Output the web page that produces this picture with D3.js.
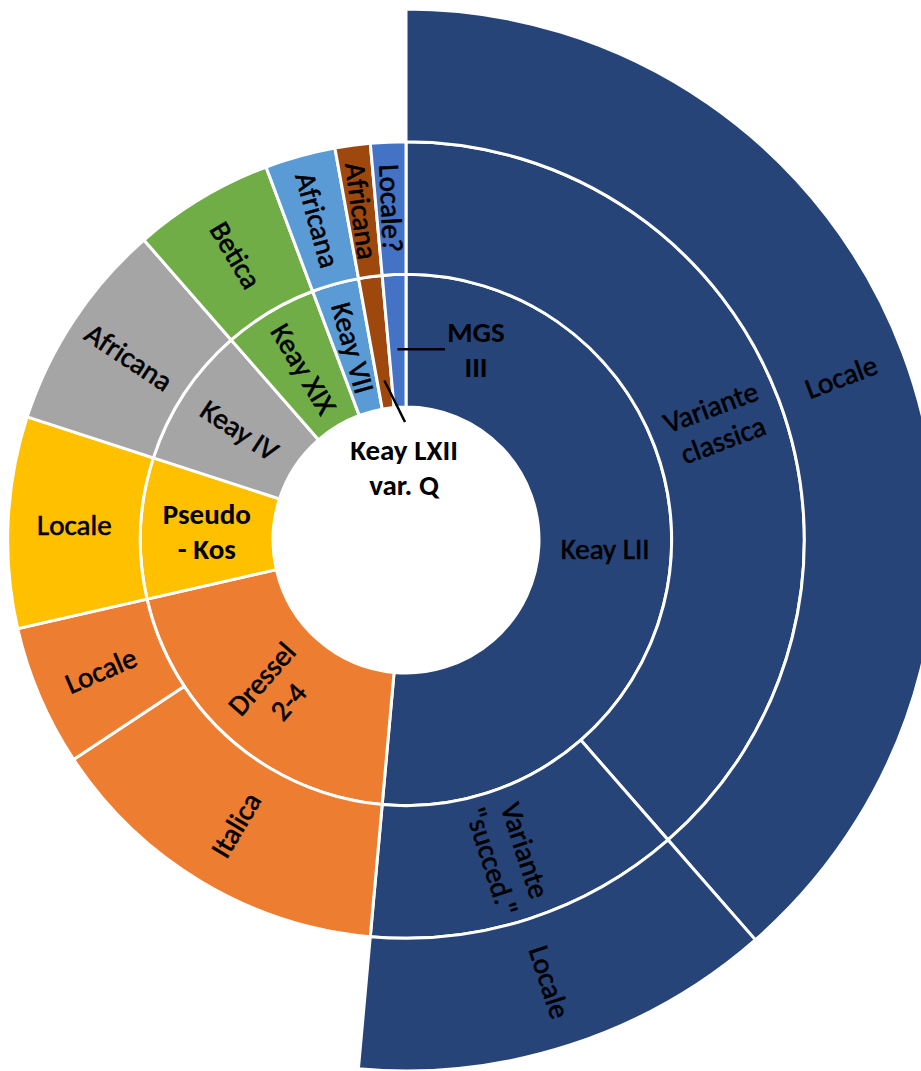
<!DOCTYPE html>
<html>
<head>
<meta charset="utf-8">
<script src="https://cdn.jsdelivr.net/npm/d3@7/dist/d3.min.js"></script>
<style>
  html, body { margin: 0; padding: 0; background: #fff; }
  svg { display: block; }
  text { font-family: Calibri, Carlito, Lato, "Open Sans", sans-serif; fill: #000; }
</style>
</head>
<body>
<svg id="chart" width="921" height="1071"></svg>
<script>
// ---- data (clockwise from 12 o'clock) ----
const level1Names  = ["Keay LII", "Dressel 2-4", "Pseudo - Kos", "Keay IV", "Keay XIX", "Keay VII", "Keay LXII var. Q", "MGS III"];
const level1Colors = ["#264478", "#ED7D31", "#FFC000", "#A5A5A5", "#70AD47", "#5B9BD5", "#9E480E", "#4472C4"];

const level2Parents = ["Keay LII", "Keay LII", "Dressel 2-4", "Dressel 2-4", "Pseudo - Kos", "Keay IV", "Keay XIX", "Keay VII", "Keay LXII var. Q", "MGS III"];
const level2Names   = ["Variante classica", "Variante \"succed.\"", "Italica", "Locale", "Locale", "Africana", "Betica", "Africana", "Africana", "Locale?"];
const level2Values  = [27, 9, 10, 4, 6, 6, 4, 2, 1, 1];

const level3Parents = ["Variante classica", "Variante \"succed.\""];
const level3Names   = ["Locale", "Locale"];
const level3Values  = [27, 9];

// label line breaks
const labelLines = {
  "Variante classica": ["Variante", "classica"],
  "Variante \"succed.\"": ["Variante", "\"succed.\""],
  "Dressel 2-4": ["Dressel", "2-4"],
  "Pseudo - Kos": ["Pseudo", "- Kos"],
  "MGS III": ["MGS", "III"],
  "Keay LXII var. Q": ["Keay LXII", "var. Q"]
};
const boldLabels = new Set(["Pseudo - Kos", "MGS III", "Keay LXII var. Q"]);

// ---- build hierarchy ----
const rootData = {
  name: "root",
  children: level1Names.map((n, i) => ({
    name: n, color: level1Colors[i],
    children: level2Names.map((m, j) => ({ m, j })).filter(o => level2Parents[o.j] === n).map(o => {
      const kids = level3Names.map((k, t) => ({ k, t })).filter(p => level3Parents[p.t] === o.m);
      if (kids.length) return { name: o.m, children: kids.map(p => ({ name: p.k, value: level3Values[p.t] })) };
      return { name: o.m, value: level2Values[o.j] };
    })
  }))
};

const root = d3.hierarchy(rootData).sum(d => d.value || 0);
d3.partition().size([2 * Math.PI, 4])(root);

const cx = 406, cy = 540;
const rScale = d3.scaleLinear().domain([1, 4]).range([133, 531]);

const svg = d3.select("#chart");
const g = svg.append("g").attr("transform", `translate(${cx},${cy})`);

const arc = d3.arc()
  .startAngle(d => d.x0).endAngle(d => d.x1)
  .innerRadius(d => rScale(d.y0)).outerRadius(d => rScale(d.y1));

const colorOf = d => { let n = d; while (n.depth > 1) n = n.parent; return n.data.color; };

const nodes = root.descendants().filter(d => d.depth > 0);

g.selectAll("path.seg").data(nodes).join("path")
  .attr("class", "seg")
  .attr("d", arc)
  .attr("fill", colorOf)
  .attr("stroke", "#fff")
  .attr("stroke-width", 3)
  .attr("stroke-linejoin", "miter");

const fontSize = 29, lineH = 35;

function drawLabel(sel, lines, bold) {
  const n = lines.length;
  lines.forEach((ln, i) => {
    sel.append("text")
      .attr("x", 0)
      .attr("y", (i - (n - 1) / 2) * lineH)
      .attr("text-anchor", "middle")
      .attr("dominant-baseline", "central")
      .style("font-size", fontSize + "px")
      .style("font-weight", bold ? 700 : 400)
      .style("stroke", bold ? "none" : "#000")
      .style("stroke-width", bold ? 0 : 0.6)
      .text(ln);
  });
}

// leader-labelled small slices
const leaders = {
  "MGS III": { r0: 191, end: [39, null], label: [70, 0] },
  "Keay LXII var. Q": { r0: 161, end: [-1, -118], label: [-2, -73] }
};

nodes.forEach(d => {
  const a = (d.x0 + d.x1) / 2;
  const name = d.data.name;
  const lines = labelLines[name] || [name];
  const bold = boldLabels.has(name);
  if (leaders[name]) {
    const L = leaders[name];
    const sx = L.r0 * Math.sin(a), sy = -L.r0 * Math.cos(a);
    const ex = L.end[0], ey = L.end[1] === null ? sy : L.end[1];
    g.append("line").attr("x1", sx).attr("y1", sy).attr("x2", ex).attr("y2", ey)
      .attr("stroke", "#000").attr("stroke-width", 2.5);
    const ly = L.label[1] === 0 ? sy : L.label[1];
    const lg = g.append("g").attr("transform", `translate(${L.label[0]},${ly})`);
    drawLabel(lg, lines, bold);
    return;
  }
  const rm = (rScale(d.y0) + rScale(d.y1)) / 2;
  const x = rm * Math.sin(a), y = -rm * Math.cos(a);
  const deg = a * 180 / Math.PI;
  let rot = deg < 180 ? deg - 90 : deg - 270;
  if (Math.abs(rot) < 5) rot = 0;
  const lg = g.append("g").attr("transform", `translate(${x},${y}) rotate(${rot})`);
  drawLabel(lg, lines, bold);
});
</script>
</body>
</html>
